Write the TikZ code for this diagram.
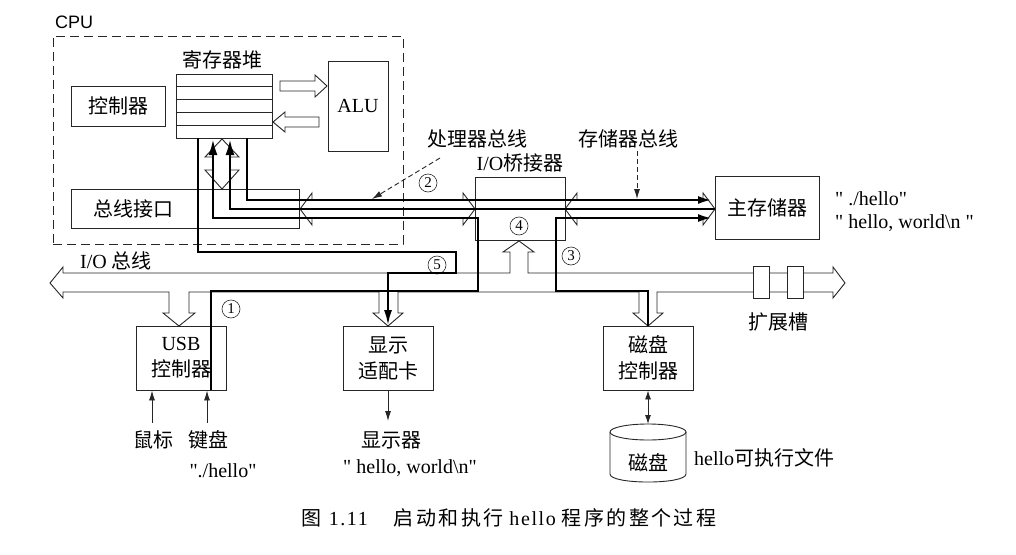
\documentclass[tikz,border=0pt]{standalone}
\usepackage{fontspec}
\setmainfont{Liberation Serif}[Ligatures=TeXOff]
\newfontfamily\cjk{Noto Sans CJK SC}
\newfontfamily\cjkcap{Noto Sans CJK SC}[LetterSpace=12]
\newfontfamily\capserif{Liberation Serif}[Ligatures=TeXOff,LetterSpace=8]
\newfontfamily\cpufont{Liberation Sans}
\usetikzlibrary{arrows.meta}
\begin{document}
\begin{tikzpicture}[x=1pt,y=-1pt,
  thinline/.style={line width=0.9pt, draw=black!85},
  box/.style={draw=black!85, line width=0.9pt, inner sep=0pt, align=center,
              font=\fontsize{20}{26}\selectfont\cjk},
  txt/.style={inner sep=0pt, font=\fontsize{20}{26}\selectfont\cjk},
  ltxt/.style={inner sep=0pt, font=\fontsize{20}{26}\selectfont},
  bold/.style={line width=2.6pt, draw=black},
  tip/.style={-{Latex[length=14pt,width=8pt]}},
  smalltip/.style={-{Latex[length=10pt,width=6pt]}},
  num/.style={circle, draw=black!85, line width=0.6pt, minimum size=18pt,
              inner sep=0pt, font=\fontsize{15}{15}\selectfont}]
\useasboundingbox (0,0) rectangle (1016,554);
\fill[white] (0,0) rectangle (1016,554);

% ---------- CPU ----------
\node[draw=black!85, line width=0.9pt, dash pattern=on 9pt off 5pt,
      minimum width=350pt, minimum height=208pt, inner sep=0pt] (cpu) at (228,140) {};
\node[anchor=base west, inner sep=0pt, font=\cpufont\fontsize{18}{18}\selectfont] (cpul) at (55,28) {CPU};

\node[box, minimum width=94pt, minimum height=40pt] (ctrl) at (118,106) {控制器};
\node[box, minimum width=96pt, minimum height=64pt] (reg) at (224,106) {};
\foreach \i in {1,...,4} \draw[thinline] ([yshift=-13*\i pt]reg.north west) -- ([yshift=-13*\i pt]reg.north east);
\node[txt] (regl) at (222,60) {寄存器堆};
\node[box, minimum width=60pt, minimum height=90pt, font=\fontsize{20}{26}\selectfont] (alu) at (358,106) {ALU};
\node[box, minimum width=228pt, minimum height=39pt] (busif) at (185,208.5) {};
\node[txt] (busift) at (133,209) {总线接口};

% reg <-> ALU hollow arrows
\draw[thinline] (280,81) -- (315,81) -- (315,75) -- (327,86) -- (315,97) -- (315,91) -- (280,91) -- cycle;
\draw[thinline] (319,117) -- (285,117) -- (285,112) -- (273,122) -- (285,132) -- (285,127) -- (319,127) -- cycle;

% reg <-> bus interface hollow arrow
\draw[thinline] (222,139) -- (239,157) -- (230,157) -- (230,170) -- (239,170) -- (222,189)
  -- (205,170) -- (213,170) -- (213,157) -- (205,157) -- cycle;

% ---------- bridge, memory ----------
\node[box, minimum width=90pt, minimum height=63pt] (bridge) at (520,208.5) {};
\node[ltxt] (bridgel) at (520,163) {I/O{\cjk 桥接器}};
\node[num] (n4) at (519,226) {4};
\node[box, minimum width=104pt, minimum height=63pt] (mem) at (767,207.5) {主存储器};
\node[ltxt, anchor=west] (s1) at (835,199) {" ./hello"};
\node[ltxt, anchor=west] (s2) at (835,223) {" hello, world\textbackslash n "};

% system bus hollow arrow
\draw[thinline] (300,209) -- (312,193) -- (312,200) -- (463,200) -- (463,193) -- (475,209)
  -- (463,225) -- (463,218) -- (312,218) -- (312,225) -- cycle;
% memory bus hollow arrow
\draw[thinline] (565,209) -- (577,193) -- (577,200) -- (703,200) -- (703,193) -- (715,209)
  -- (703,225) -- (703,218) -- (577,218) -- (577,225) -- cycle;

% bus labels
\node[txt] (procl) at (477,139) {处理器总线};
\node[txt] (meml) at (628,139) {存储器总线};
\node[num] (n2) at (428,183) {2};
\coordinate (pa) at (440,158);
\coordinate (pb) at (372,199);
\draw[thinline, dash pattern=on 5pt off 3pt, smalltip] (pa) -- (pb);
\coordinate (ma) at (637,151);
\coordinate (mb) at (637,199);
\draw[thinline, dash pattern=on 5pt off 3pt, smalltip] (ma) -- (mb);

% ---------- I/O bus ----------
\draw[thinline] (50,283) -- (63,267) -- (63,273) -- (510,273) -- (510,252) -- (503,252) -- (519,241)
  -- (534,252) -- (528,252) -- (528,273) -- (833,273) -- (833,267) -- (845,283) -- (833,298)
  -- (833,292) -- (657,292) -- (657,313) -- (663,313) -- (648,326) -- (633,313) -- (639,313)
  -- (639,292) -- (398,292) -- (398,313) -- (403,313) -- (388,326) -- (373,313) -- (379,313)
  -- (379,292) -- (189,292) -- (189,313) -- (195,313) -- (179,326) -- (163,313) -- (169,313)
  -- (169,292) -- (63,292) -- (63,298) -- cycle;
\node[box, fill=white, minimum width=16pt, minimum height=32pt] (slot1) at (761,282) {};
\node[box, fill=white, minimum width=16pt, minimum height=32pt] (slot2) at (795,282) {};
\node[txt] (slotl) at (778,322) {扩展槽};
\node[ltxt, anchor=west] (iobl) at (80,261) {I/O {\cjk 总线}};

% ---------- devices ----------
\node[box, minimum width=90pt, minimum height=64pt] (usb) at (181,358) {{\rmfamily USB}\\控制器};
\node[box, minimum width=90pt, minimum height=64pt] (gfx) at (388,358) {显示\\适配卡};
\node[box, minimum width=90pt, minimum height=64pt] (dctrl) at (648,358) {磁盘\\控制器};

\node[txt] (mouse) at (153,440) {鼠标};
\node[txt] (kbd) at (208,440) {键盘};
\node[ltxt] (kbds) at (223,471) {"./hello"};
\draw[thinline, smalltip] (152,423) -- (usb.south -| 152,0);
\draw[thinline, smalltip] (207,423) -- (usb.south -| 207,0);

\node[txt] (disp) at (391,440) {显示器};
\node[ltxt] (disps) at (410,468) {" hello, world\textbackslash n"};
\coordinate (dispa) at (388,421);
\draw[thinline, smalltip] (gfx.south) -- (dispa);

% disk
\node[txt, minimum width=76pt, minimum height=50pt] (disk) at (648,463) {磁盘};
\draw[thinline] (610,432) -- (610,474) .. controls (610,484.7) and (686,484.7) .. (686,474) -- (686,432);
\draw[thinline] (648,432) ellipse [x radius=38pt, y radius=8pt];
\coordinate (disktop) at (648,424);
\draw[thinline, {Latex[length=9pt,width=6pt]}-{Latex[length=9pt,width=6pt]}] (dctrl.south) -- (disktop);
\node[ltxt, anchor=west] (diskl) at (694,458) {hello{\cjk 可执行文件}};

% ---------- numbered labels ----------
\node[num] (n1) at (231,309) {1};
\node[num] (n3) at (571,256) {3};
\node[num] (n5) at (437,265) {5};

% ---------- thick data paths ----------
\draw[bold, tip] (247,138) -- (247,200) -- (712,200);
\draw[bold, -{Latex[length=16pt,width=9pt]}] (715,209) -- (230,209) -- (230,139);
\draw[bold, -{Latex[length=16pt,width=9pt]}] (211,390) -- (211,291) -- (478,291) -- (478,218) -- (213,218) -- (213,139);
\draw[bold, tip] (648,326) -- (648,291) -- (556,291) -- (556,218) -- (712,218);
\draw[bold, -{Latex[length=16pt,width=8pt]}] (198,138) -- (198,252) -- (456,252) -- (456,273) -- (388,273) -- (388,326);

% ---------- caption ----------
\node[inner sep=0pt, font=\fontsize{20}{22}\selectfont] (cap) at (509,518)
  {{\cjkcap 图}\hspace{0.35em}{\capserif 1.11}\hspace{1.3em}{\cjkcap 启动和执行}\hspace{0.3em}{\capserif hello}\hspace{0.3em}{\cjkcap 程序的整个过程}};
\end{tikzpicture}
\end{document}
